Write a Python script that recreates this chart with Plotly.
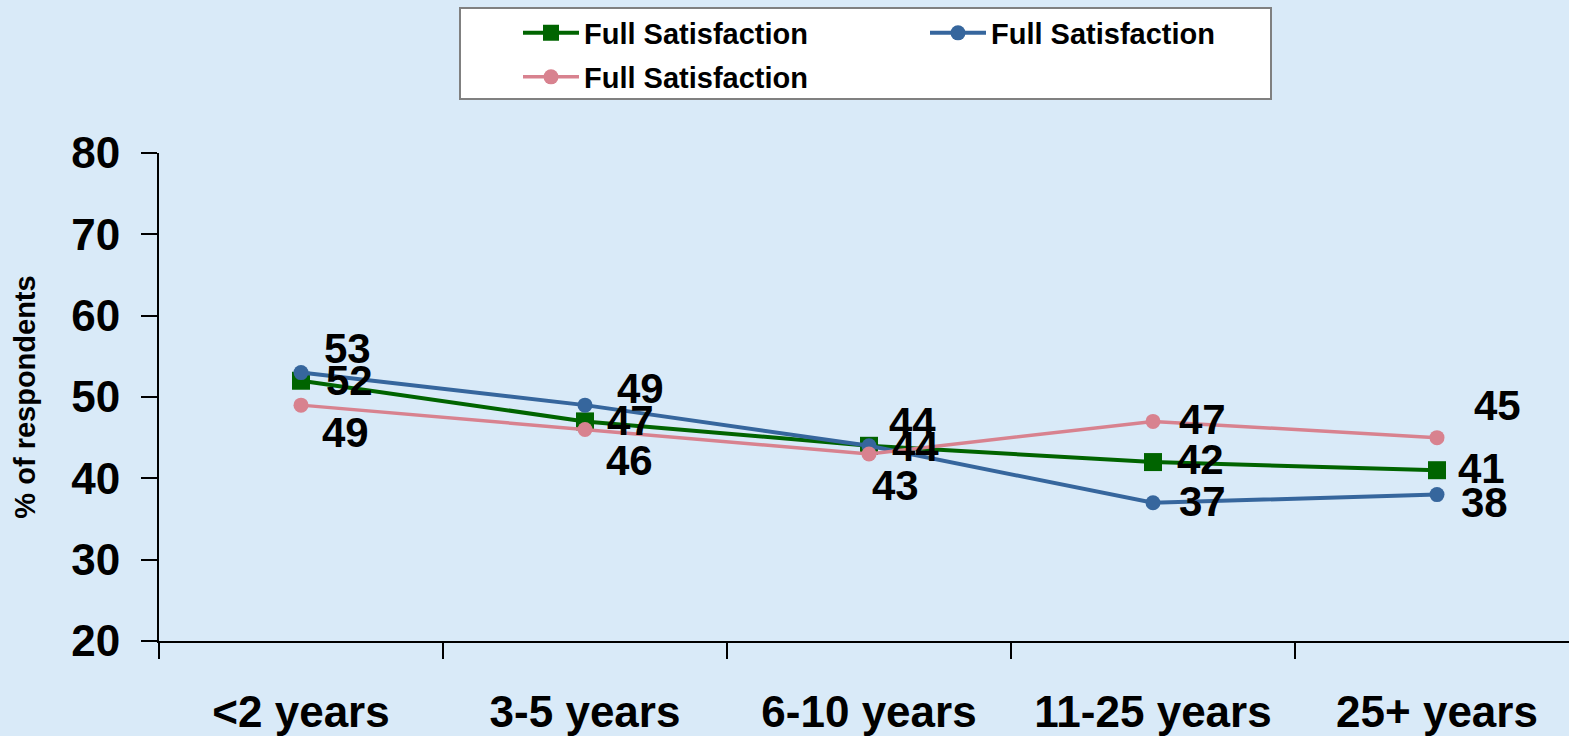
import plotly.graph_objects as go

# Tenure bands on the x axis
categories = ["<2 years", "3-5 years", "6-10 years", "11-25 years", "25+ years"]

# Share of respondents reporting full satisfaction, per series
green_vals = [52, 47, 44, 42, 41]
blue_vals = [53, 49, 44, 37, 38]
pink_vals = [49, 46, 43, 47, 45]

series_names = ["Full Satisfaction", "Full Satisfaction", "Full Satisfaction"]

y_ticks = [20, 30, 40, 50, 60, 70, 80]

# Label placement (pixel offsets of each value label from its marker)
green_offsets = [(48, 0), (45, -1), (46, 1), (47, -3), (44, -2)]
blue_offsets = [(46, -24), (55, -17), (43, -23), (49, -1), (47, 8)]
pink_offsets = [(44, 27), (44, 31), (26, 32), (49, -2), (60, -32)]

GREEN = "#006400"
BLUE = "#36669d"
PINK = "#d8828f"
BG = "#d9eaf8"
FONT = "Liberation Sans, Arial, sans-serif"

fig = go.Figure()

fig.add_trace(go.Scatter(
    x=categories, y=green_vals, name=series_names[0], mode="lines+markers",
    line=dict(color=GREEN, width=4),
    marker=dict(symbol="square", size=18, color=GREEN),
    legend="legend",
))
fig.add_trace(go.Scatter(
    x=categories, y=blue_vals, name=series_names[1], mode="lines+markers",
    line=dict(color=BLUE, width=4),
    marker=dict(symbol="circle", size=15, color=BLUE),
    legend="legend2",
))
fig.add_trace(go.Scatter(
    x=categories, y=pink_vals, name=series_names[2], mode="lines+markers",
    line=dict(color=PINK, width=3.5),
    marker=dict(symbol="circle", size=15, color=PINK),
    legend="legend3",
))

# Value labels
annotations = []
for vals, offs in ((green_vals, green_offsets), (blue_vals, blue_offsets), (pink_vals, pink_offsets)):
    for cat, v, (dx, dy) in zip(categories, vals, offs):
        annotations.append(dict(
            x=cat, y=v, xref="x", yref="y", text=str(v), showarrow=False,
            xanchor="center", yanchor="middle", xshift=dx, yshift=-dy,
            font=dict(family=FONT, size=42, color="black", weight="bold"),
        ))

# Geometry helpers for the legend frame (paper coordinates)
W, H = 1569, 736
ML, MT, MB = 159, 153, 95
PW = W - ML
PH = H - MT - MB


def px_to_paper_x(px):
    return (px - ML) / PW


def px_to_paper_y(py):
    return 1 + (MT - py) / PH


legend_common = dict(
    bgcolor="rgba(0,0,0,0)", borderwidth=0, orientation="v",
    font=dict(family=FONT, size=29, color="black", weight="bold"),
    itemwidth=56, xanchor="left", yanchor="middle",
)

fig.update_layout(
    width=W, height=H,
    margin=dict(l=ML, r=0, t=MT, b=MB, pad=0),
    paper_bgcolor=BG, plot_bgcolor=BG,
    showlegend=True,
    legend=dict(x=px_to_paper_x(518), y=px_to_paper_y(33), **legend_common),
    legend2=dict(x=px_to_paper_x(925), y=px_to_paper_y(33), **legend_common),
    legend3=dict(x=px_to_paper_x(518), y=px_to_paper_y(77), **legend_common),
    annotations=annotations,
    shapes=[dict(
        type="rect", xref="paper", yref="paper",
        x0=px_to_paper_x(460), x1=px_to_paper_x(1271),
        y0=px_to_paper_y(99), y1=px_to_paper_y(8),
        line=dict(color="#808080", width=2), fillcolor="white", layer="above",
    )],
    xaxis=dict(
        type="category", range=[-0.5, -0.5 + PW / 284],
        tickson="boundaries", ticks="outside", ticklen=16, tickwidth=2, tickcolor="black",
        showline=True, linecolor="black", linewidth=2, showgrid=False, zeroline=False,
        tickfont=dict(family=FONT, size=44, color="black", weight="bold"),
        ticklabelstandoff=31,
    ),
    yaxis=dict(
        range=[20, 80], tickvals=y_ticks,
        ticks="outside", ticklen=16, tickwidth=2, tickcolor="black",
        showline=True, linecolor="black", linewidth=2, showgrid=False, zeroline=False,
        tickfont=dict(family=FONT, size=44, color="black", weight="bold"),
        ticklabelstandoff=12,
        title=dict(text="% of respondents", standoff=27,
                   font=dict(family=FONT, size=29, color="black", weight="bold")),
    ),
)

fig.write_html("out.html")
